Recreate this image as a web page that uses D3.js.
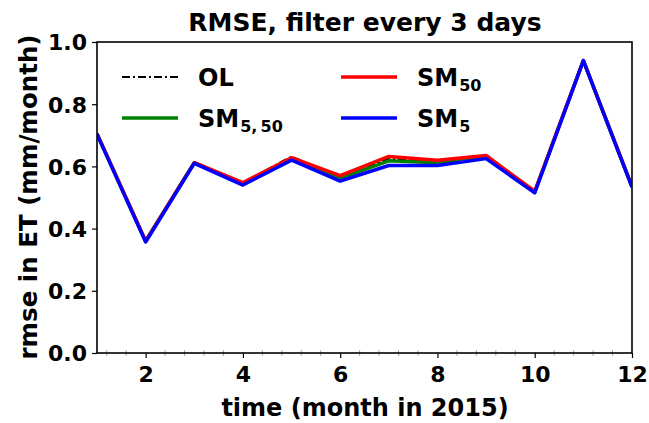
<!DOCTYPE html>
<html>
<head>
<meta charset="utf-8">
<script src="https://cdn.jsdelivr.net/npm/d3@7"></script>
<style>
  html, body { margin: 0; padding: 0; background: #fff; }
  svg { display: block; font-family: "DejaVu Sans", sans-serif; }
</style>
</head>
<body>
<svg id="chart" width="649" height="423"></svg>
<script>
// Monthly RMSE of ET for each filter run (filter every 3 days)
const months = [1, 2, 3, 4, 5, 6, 7, 8, 9, 10, 11, 12];
const olValues    = [0.705, 0.360, 0.612, 0.548, 0.632, 0.565, 0.625, 0.615, 0.632, 0.520, 0.940, 0.535];
const sm550Values = [0.705, 0.360, 0.612, 0.545, 0.625, 0.562, 0.618, 0.612, 0.630, 0.518, 0.940, 0.535];
const sm50Values  = [0.705, 0.360, 0.612, 0.548, 0.628, 0.570, 0.632, 0.620, 0.635, 0.520, 0.940, 0.535];
const sm5Values   = [0.703, 0.357, 0.610, 0.540, 0.620, 0.553, 0.603, 0.603, 0.625, 0.515, 0.940, 0.533];
const xTicks = [2, 4, 6, 8, 10, 12];
const yTicks = [0.0, 0.2, 0.4, 0.6, 0.8, 1.0];

const series = [
  { name: "OL",    sub: "",           values: olValues,    color: "#000000", width: 2,   dash: "8,3,2,3" },
  { name: "SM",    sub: "5,\u200950", values: sm550Values, color: "#008000", width: 3.5, dash: null },
  { name: "SM",    sub: "50",         values: sm50Values,  color: "#ff0000", width: 3.5, dash: null },
  { name: "SM",    sub: "5",          values: sm5Values,   color: "#0000ff", width: 3.5, dash: null }
];

const svg = d3.select("#chart");
const plot = { left: 97, right: 632, top: 42, bottom: 353 };

const x = d3.scaleLinear().domain([1, 12]).range([plot.left, plot.right]);
const y = d3.scaleLinear().domain([0, 1]).range([plot.bottom, plot.top]);

// faint minor ticks along the bottom axis
const minor = d3.range(1.2, 12, 0.4).filter(v => Math.abs(v - Math.round(v)) > 0.05 || Math.round(v) % 2 === 1);
svg.append("g").selectAll("line").data(minor).join("line")
  .attr("x1", d => x(d)).attr("x2", d => x(d))
  .attr("y1", plot.bottom - 3).attr("y2", plot.bottom + 3)
  .attr("stroke", "#aaa").attr("stroke-width", 1);

// series lines
const line = d3.line().x((d, i) => x(months[i])).y(d => y(d));
svg.append("clipPath").attr("id", "plotclip").append("rect")
  .attr("x", plot.left).attr("y", plot.top)
  .attr("width", plot.right - plot.left).attr("height", plot.bottom - plot.top);

const lines = svg.append("g").attr("clip-path", "url(#plotclip)");
series.forEach(s => {
  lines.append("path")
    .datum(s.values)
    .attr("d", line)
    .attr("fill", "none")
    .attr("stroke", s.color)
    .attr("stroke-width", s.width)
    .attr("stroke-linejoin", "round")
    .attr("stroke-dasharray", s.dash);
});

// axes
const xAxis = svg.append("g")
  .attr("transform", `translate(0,${plot.bottom})`)
  .call(d3.axisBottom(x).tickValues(xTicks).tickSize(5).tickPadding(8).tickFormat(d3.format("d")));
const yAxis = svg.append("g")
  .attr("transform", `translate(${plot.left},0)`)
  .call(d3.axisLeft(y).tickValues(yTicks).tickSize(5).tickPadding(5).tickFormat(d3.format(".1f")));
[xAxis, yAxis].forEach(a => {
  a.select(".domain").remove();
  a.selectAll(".tick line").attr("stroke", "#000").attr("stroke-width", 1.2);
  a.selectAll(".tick text").attr("fill", "#000")
    .style("font-size", "22px").style("font-weight", "bold").style("font-family", "DejaVu Sans");
});
yAxis.selectAll(".tick text").attr("dy", "0.36em");

// frame
svg.append("rect")
  .attr("x", plot.left).attr("y", plot.top)
  .attr("width", plot.right - plot.left).attr("height", plot.bottom - plot.top)
  .attr("fill", "none").attr("stroke", "#000").attr("stroke-width", 1.6);

// title and axis labels
svg.append("text").attr("x", 365).attr("y", 31).attr("text-anchor", "middle")
  .style("font-size", "25px").style("font-weight", "bold").text("RMSE, filter every 3 days");
svg.append("text").attr("x", 365).attr("y", 416).attr("text-anchor", "middle")
  .style("font-size", "24px").style("font-weight", "bold").text("time (month in 2015)");
svg.append("text").attr("transform", "translate(37,197) rotate(-90)").attr("text-anchor", "middle")
  .style("font-size", "24.5px").style("font-weight", "bold").text("rmse in ET (mm/month)");

// legend, two columns
const legendPos = [
  { lx: 122, ly: 77 },
  { lx: 122, ly: 118 },
  { lx: 341, ly: 77 },
  { lx: 341, ly: 118 }
];
series.forEach((s, i) => {
  const p = legendPos[i];
  svg.append("line")
    .attr("x1", p.lx).attr("x2", p.lx + 56)
    .attr("y1", p.ly).attr("y2", p.ly)
    .attr("stroke", s.color).attr("stroke-width", s.width)
    .attr("stroke-dasharray", s.dash);
  const t = svg.append("text").attr("x", p.lx + 76).attr("y", p.ly + 9)
    .style("font-size", "24px").style("font-weight", "bold").text(s.name);
  if (s.sub) {
    t.append("tspan").attr("dx", 1).attr("dy", 5).style("font-size", "16px").text(s.sub);
  }
});
</script>
</body>
</html>
